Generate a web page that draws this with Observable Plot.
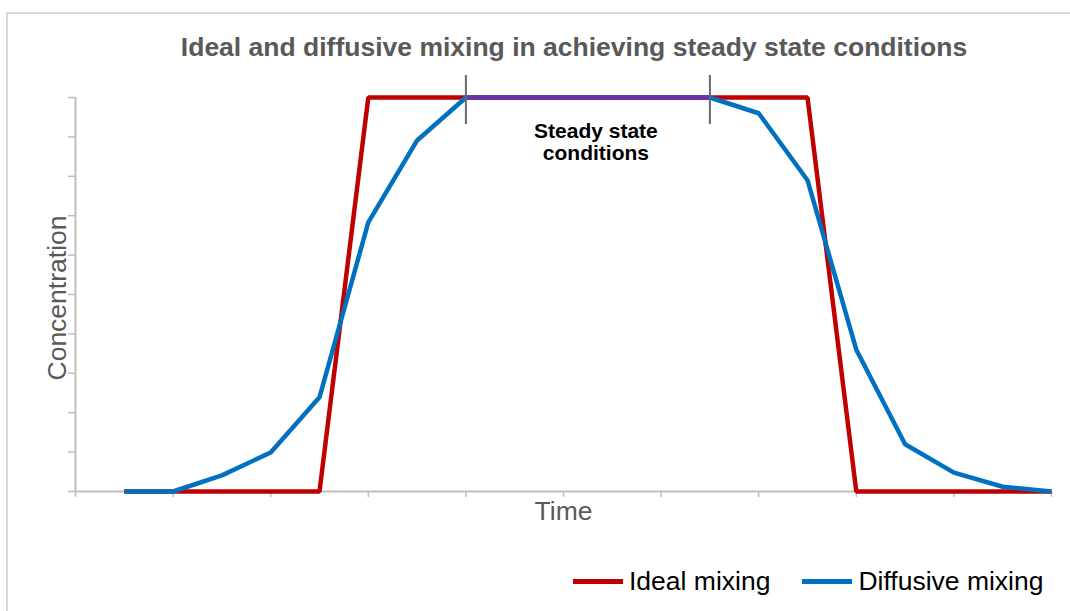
<!DOCTYPE html>
<html>
<head>
<meta charset="utf-8">
<script src="https://cdn.jsdelivr.net/npm/d3@7"></script>
<script src="https://cdn.jsdelivr.net/npm/@observablehq/plot@0.6"></script>
<style>
  html, body { margin: 0; padding: 0; background: #fff; overflow: hidden; }
  body { width: 1070px; height: 611px; position: relative; font-family: "Liberation Sans", Arial, sans-serif; }
  #frame { position: absolute; left: 6px; top: 12px; width: 1100px; height: 640px; border: 2px solid #d9d9d9; box-sizing: border-box; }
  #title { position: absolute; left: 574px; top: 34px; transform: translateX(-50%); white-space: nowrap;
           font-size: 26.5px; line-height: 1; font-weight: bold; color: #595959; }
  #chart { position: absolute; left: 0; top: 60px; }
  #legend { position: absolute; left: 573px; top: 568px; display: flex; align-items: center; font-size: 26.5px; line-height: 1; color: #000; white-space: nowrap; }
  .item { display: flex; align-items: center; }
  .sw { width: 50px; height: 5px; margin-right: 6px; margin-top: 1px; }
</style>
</head>
<body>
<div id="frame"></div>
<div id="title">Ideal and diffusive mixing in achieving steady state conditions</div>
<div id="chart"></div>
<div id="legend"></div>
<script>
// ---- data ----
const time = [1, 2, 3, 4, 5, 6, 7, 8, 9, 10, 11, 12, 13, 14, 15, 16, 17, 18, 19, 20];
const idealMixing = [0, 0, 0, 0, 0, 1, 1, 1, 1, 1, 1, 1, 1, 1, 1, 0, 0, 0, 0, 0];
const diffusiveMixing = [0, 0, 0.041, 0.099, 0.239, 0.683, 0.891, 1, 1, 1, 1, 1, 1, 0.96, 0.79, 0.36, 0.12, 0.048, 0.012, 0];
const steadyStateRange = [8, 13];
const seriesNames = ["Ideal mixing", "Diffusive mixing"];
const seriesColors = ["#C00000", "#0070C0"];
const steadyColor = "#7030A0";
const xTicks = [0, 2, 4, 6, 8, 10, 12, 14, 16, 18, 20];
const yTicks = [0, 0.1, 0.2, 0.3, 0.4, 0.5, 0.6, 0.7, 0.8, 0.9, 1];
const xLabel = "Time";
const yLabel = "Concentration";
const annotationText = "Steady state\nconditions";

// ---- build tables ----
const ideal = time.map((t, i) => ({t, v: idealMixing[i]}));
const diffusive = time.map((t, i) => ({t, v: diffusiveMixing[i]}));
const steady = diffusive.filter(d => d.t >= steadyStateRange[0] && d.t <= steadyStateRange[1]);
const midSteady = [(steadyStateRange[0] + steadyStateRange[1]) / 2];

const axisColor = "#bfbfbf";
const fontFam = '"Liberation Sans", Arial, sans-serif';

const chart = Plot.plot({
  width: 1070,
  height: 490,
  marginLeft: 75,
  marginRight: 19,
  marginTop: 37,
  marginBottom: 59,
  style: {fontFamily: fontFam, background: "transparent", overflow: "visible"},
  x: {domain: [0, 20]},
  y: {domain: [0, 1]},
  marks: [
    Plot.axisX({ticks: xTicks, tickSize: 6, tickFormat: () => "", label: null, color: axisColor, strokeWidth: 1.5}),
    Plot.axisY({ticks: yTicks, tickSize: 7, tickFormat: () => "", label: null, color: axisColor, strokeWidth: 1.5}),
    Plot.ruleY([0], {stroke: axisColor, strokeWidth: 2}),
    Plot.ruleX([0], {stroke: axisColor, strokeWidth: 2}),
    Plot.line(ideal, {x: "t", y: "v", stroke: seriesColors[0], strokeWidth: 4.5, strokeLinejoin: "miter", strokeLinecap: "butt"}),
    Plot.line(diffusive, {x: "t", y: "v", stroke: seriesColors[1], strokeWidth: 4.5, strokeLinejoin: "round", strokeLinecap: "butt"}),
    Plot.line(steady, {x: "t", y: "v", stroke: steadyColor, strokeWidth: 4.5, strokeLinecap: "butt"}),
    Plot.ruleX(steadyStateRange, {x: d => d, y1: 1, y2: 1, insetTop: -22, insetBottom: -27, stroke: "#646873", strokeWidth: 2}),
    Plot.text(midSteady, {x: d => d, y: 1, text: () => annotationText, dx: 8, dy: 44, lineAnchor: "middle", lineHeight: 1.05,
      fontSize: 21, fontWeight: "bold", fill: "#000", fontFamily: fontFam}),
    Plot.text([xLabel], {frameAnchor: "bottom", text: d => d, dy: 20.5, textAnchor: "middle", lineAnchor: "middle",
      fontSize: 26.5, fill: "#595959", fontFamily: fontFam}),
    Plot.text([yLabel], {frameAnchor: "left", text: d => d, rotate: -90, dx: -17.5, dy: 3.5, textAnchor: "middle", lineAnchor: "middle",
      fontSize: 26.5, fill: "#595959", fontFamily: fontFam})
  ]
});
document.getElementById("chart").appendChild(chart);

// ---- legend ----
const legend = document.getElementById("legend");
seriesNames.forEach((name, i) => {
  const item = document.createElement("div");
  item.className = "item";
  if (i > 0) item.style.marginLeft = "32px";
  const sw = document.createElement("div");
  sw.className = "sw";
  sw.style.background = seriesColors[i];
  const lab = document.createElement("span");
  lab.textContent = name;
  item.appendChild(sw);
  item.appendChild(lab);
  legend.appendChild(item);
});
</script>
</body>
</html>
